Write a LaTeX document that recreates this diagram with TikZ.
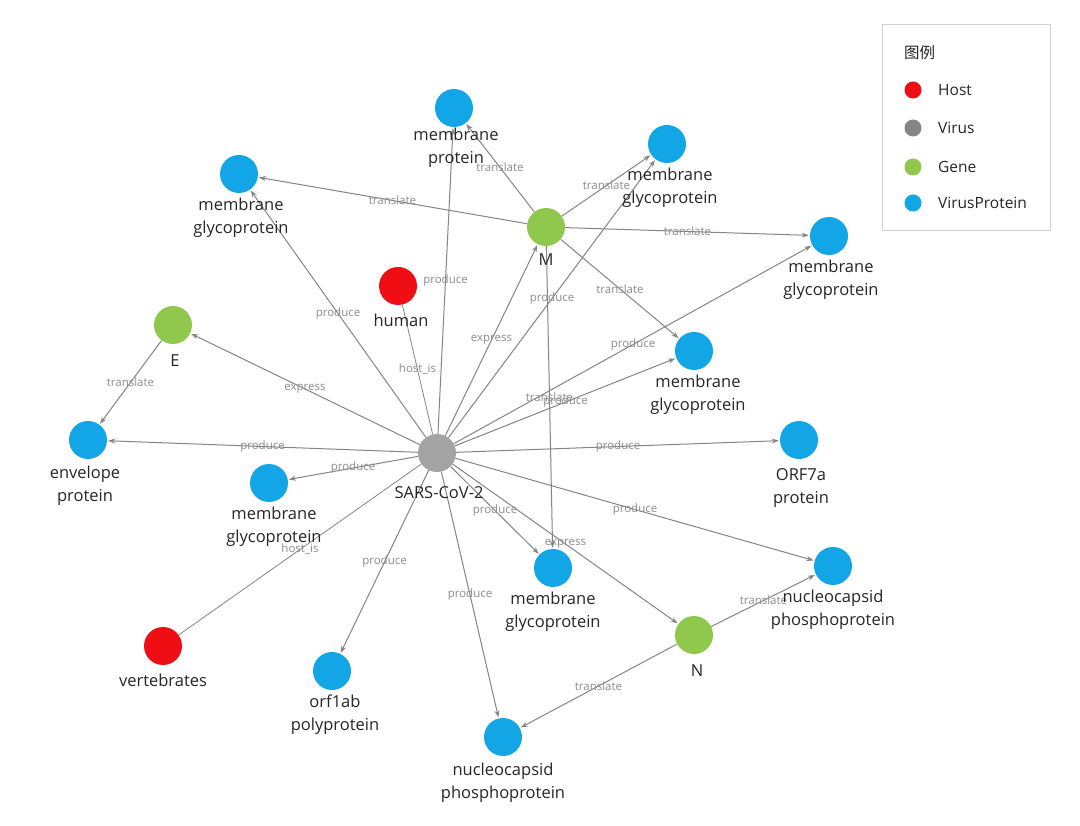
\documentclass[tikz,border=0pt]{standalone}
\usepackage{fontspec}
\setmainfont{Open Sans}
\newfontfamily\cjk{Noto Sans CJK SC}
\usetikzlibrary{arrows.meta,backgrounds}
\definecolor{hostc}{HTML}{EE0E14}
\definecolor{virusc}{HTML}{A3A3A3}
\definecolor{virusleg}{HTML}{858585}
\definecolor{genec}{HTML}{8FC84C}
\definecolor{protc}{HTML}{12A6E6}
\definecolor{edgec}{HTML}{858585}
\definecolor{elbl}{HTML}{8C8C8C}
\definecolor{txt}{HTML}{262626}
\tikzset{
  ent/.style={circle,minimum size=38pt,inner sep=0pt,draw=none},
  host/.style={ent,fill=hostc},
  virus/.style={ent,fill=virusc},
  gene/.style={ent,fill=genec},
  prot/.style={ent,fill=protc},
  lbl/.style={font=\fontsize{16.5}{23}\selectfont,text=txt,align=center,inner sep=0.5pt},
  every label/.style={lbl},
  label distance=4pt,
  rel/.style={draw=edgec,line width=1pt,-{Stealth[length=7pt,width=5pt]},shorten >=1pt},
  hostrel/.style={draw=edgec,line width=0.8pt},
  el/.style={font=\fontsize{11.5}{12}\selectfont,text=elbl,inner sep=0pt,midway},
  legdot/.style={circle,minimum size=17pt,inner sep=0pt},
  legtxt/.style={font=\fontsize{15.5}{18}\selectfont,text=txt,anchor=west,inner sep=0pt}
}
\begin{document}
\begin{tikzpicture}[x=1pt,y=-1pt]
\useasboundingbox (0,0) rectangle (1080,826);
% nodes
\node[virus,label={[label distance=14pt,xshift=2pt]below:SARS-CoV-2}] (sars) at (437,453) {};
\node[gene,label={[label distance=7pt]below:M}] (M) at (546,227) {};
\node[gene,label={[label distance=10pt,xshift=2pt]below:E}] (E) at (173,325) {};
\node[gene,label={[label distance=10pt,xshift=3pt]below:N}] (N) at (694,635) {};
\node[host,label={[label distance=8pt,xshift=3pt]below:human}] (human) at (398,286) {};
\node[host,label={[label distance=8pt]below:vertebrates}] (vert) at (163,646) {};
\node[prot,label={[label distance=0pt,xshift=2pt]below:{membrane\\protein}}] (mp) at (454,108) {};
\node[prot,label={[xshift=2pt]below:{membrane\\glycoprotein}}] (mgtl) at (239,174) {};
\node[prot,label={[xshift=3pt]below:{membrane\\glycoprotein}}] (mgtr) at (667,144) {};
\node[prot,label={[xshift=2pt]below:{membrane\\glycoprotein}}] (mgr) at (829,236) {};
\node[prot,label={[xshift=4pt]below:{membrane\\glycoprotein}}] (mgmr) at (694,351) {};
\node[prot,label={[label distance=6pt,xshift=-3pt]below:{envelope\\protein}}] (env) at (88,440) {};
\node[prot,label={[xshift=5pt]below:{membrane\\glycoprotein}}] (mglm) at (269,483) {};
\node[prot,label={[label distance=9pt,xshift=2pt]below:{ORF7a\\protein}}] (orf7) at (799,440) {};
\node[prot,label={below:{membrane\\glycoprotein}}] (mgbc) at (553,568) {};
\node[prot,label={below:{nucleocapsid\\phosphoprotein}}] (ncr) at (833,566) {};
\node[prot,label={[xshift=3pt]below:{orf1ab\\polyprotein}}] (orf1) at (332,671) {};
\node[prot,label={[label distance=6pt]below:{nucleocapsid\\phosphoprotein}}] (ncb) at (503,737) {};
% edges
\begin{scope}[on background layer]
\fill[white] (0,0) rectangle (1080,826);
\draw[rel] (sars) -- node[el]{produce} (mp);
\draw[rel] (sars) -- node[el]{produce} (mgtl);
\draw[hostrel] (sars) -- node[el]{host\_is} (human);
\draw[rel] (sars) -- node[el]{express} (M);
\draw[rel] (sars) -- node[el]{express} (E);
\draw[rel] (sars) -- node[el]{produce} (env);
\draw[rel] (sars) -- node[el]{produce} (mglm);
\draw[hostrel] (sars) -- node[el]{host\_is} (vert);
\draw[rel] (sars) -- node[el]{produce} (orf1);
\draw[rel] (sars) -- node[el]{produce} (ncb);
\draw[rel] (sars) -- node[el]{produce} (mgbc);
\draw[rel] (sars) -- node[el]{express} (N);
\draw[rel] (sars) -- node[el]{produce} (ncr);
\draw[rel] (sars) -- node[el]{produce} (orf7);
\draw[rel] (sars) -- node[el]{produce} (mgmr);
\draw[rel] (sars) -- node[el]{produce} (mgr);
\draw[rel] (sars) -- node[el]{produce} (mgtr);
\draw[rel] (M) -- node[el]{translate} (mp);
\draw[rel] (M) -- node[el]{translate} (mgtl);
\draw[rel] (M) -- node[el]{translate} (mgtr);
\draw[rel] (M) -- node[el]{translate} (mgr);
\draw[rel] (M) -- node[el]{translate} (mgmr);
\draw[rel] (M) -- node[el]{translate} (mgbc);
\draw[rel] (E) -- node[el]{translate} (env);
\draw[rel] (N) -- node[el]{translate} (ncr);
\draw[rel] (N) -- node[el]{translate} (ncb);
\end{scope}
% legend
\node[draw=black!18,line width=0.8pt,fill=white,minimum width=168pt,minimum height=206pt,anchor=north west,inner sep=0pt] (legend) at (882,24) {};
\node[font=\cjk\fontsize{15.5}{18}\selectfont,text=txt,anchor=west,inner sep=0pt] (legtitle) at (904,53) {图例};
\node[legdot,fill=hostc] (lh) at (913,90) {};
\node[legtxt] (lht) at (938,90) {Host};
\node[legdot,fill=virusleg] (lv) at (913,128) {};
\node[legtxt] (lvt) at (938,128) {Virus};
\node[legdot,fill=genec] (lg) at (913,167) {};
\node[legtxt] (lgt) at (938,167) {Gene};
\node[legdot,fill=protc] (lp) at (913,203) {};
\node[legtxt] (lpt) at (938,203) {VirusProtein};
\end{tikzpicture}
\end{document}
